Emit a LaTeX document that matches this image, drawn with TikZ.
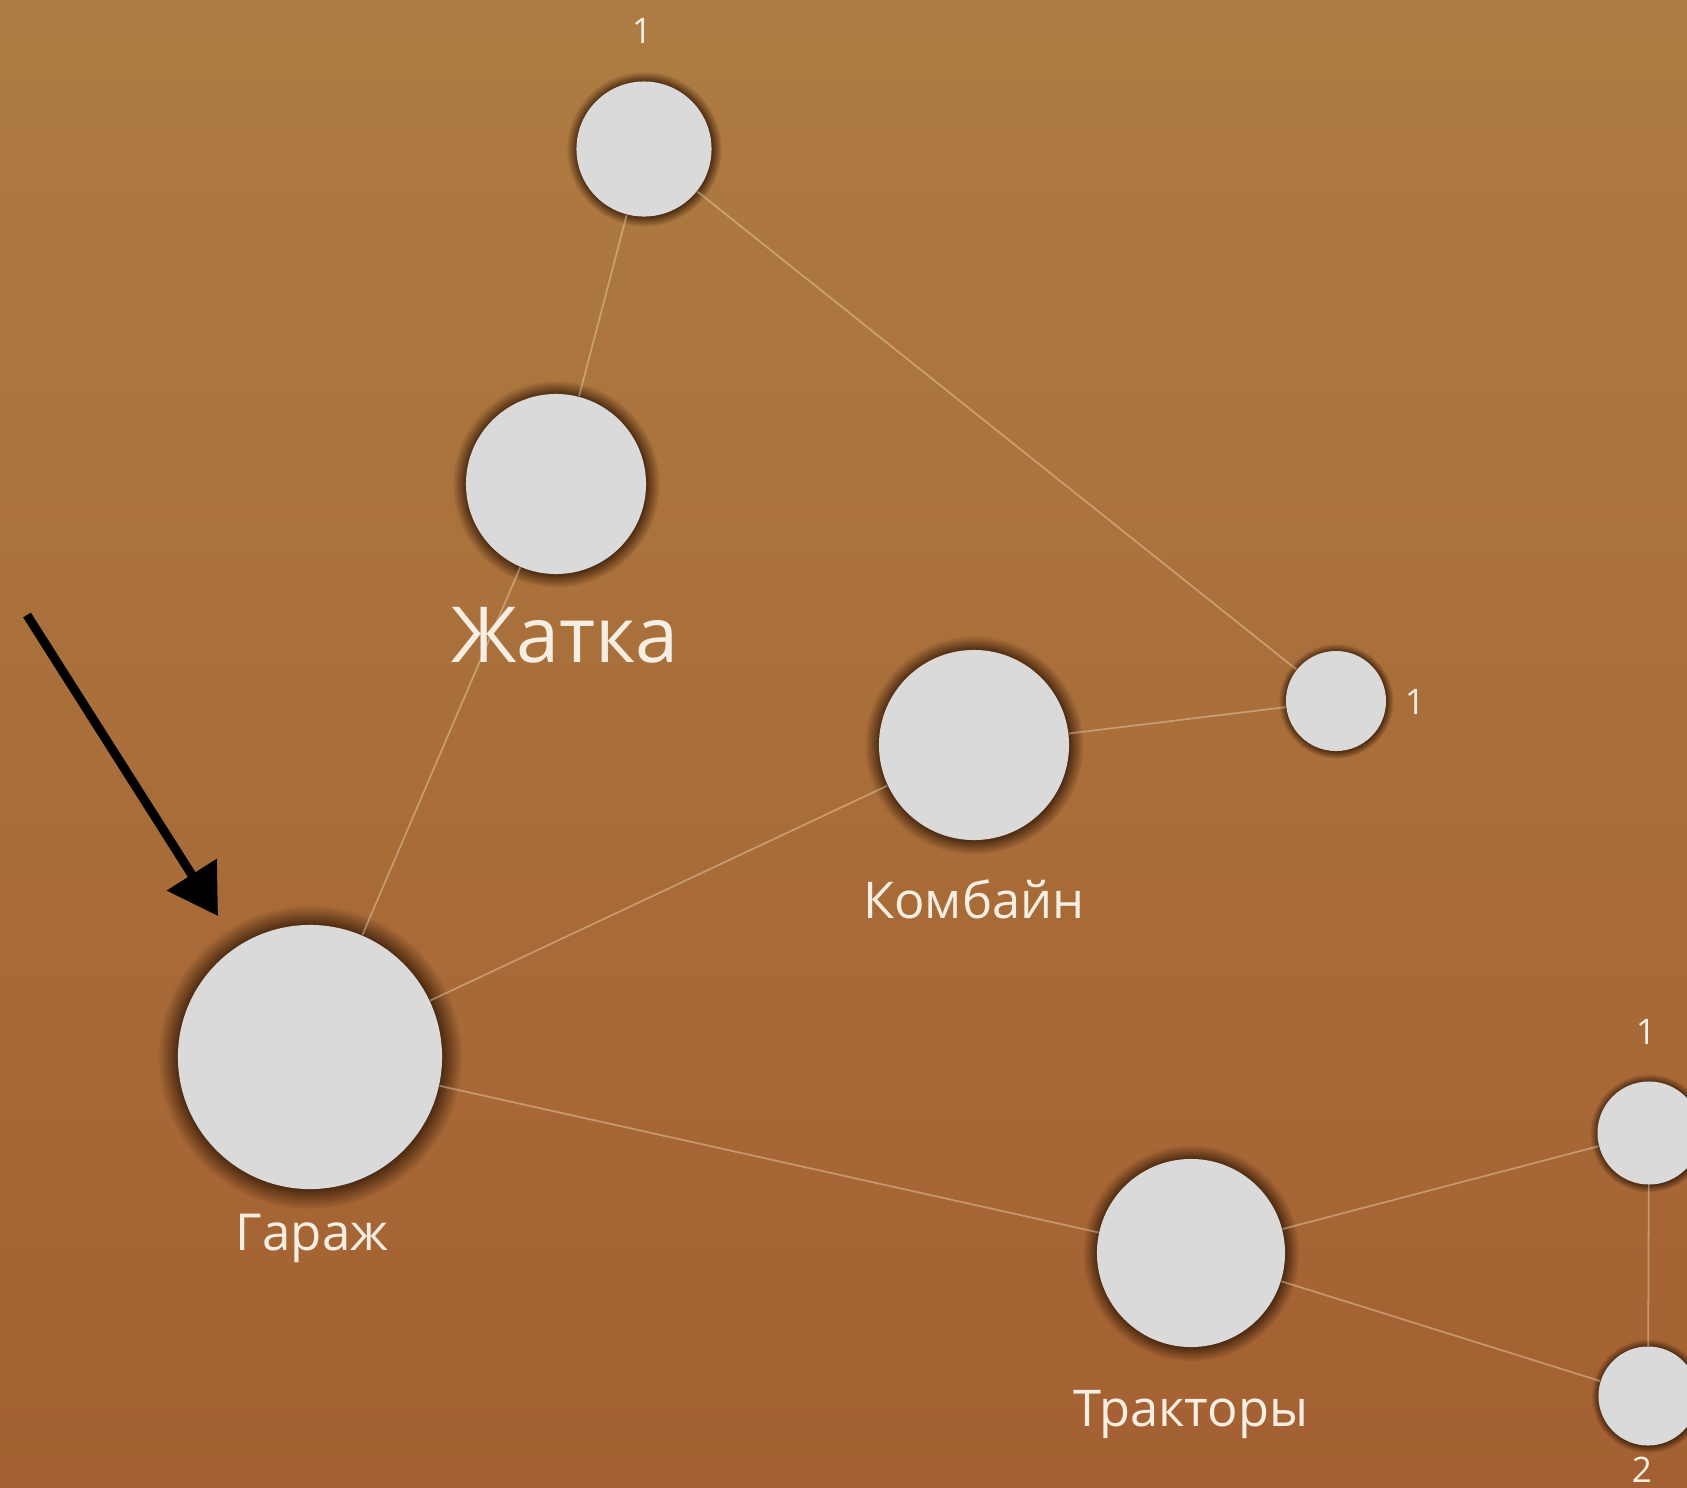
\documentclass[tikz,border=0pt]{standalone}
\usepackage{fontspec}
\setmainfont{Open Sans}
\usetikzlibrary{shadows,arrows.meta}

\definecolor{bgtop}{RGB}{174,124,66}
\definecolor{bgmid}{RGB}{184,127,66}
\definecolor{bgbot}{RGB}{164,96,50}
\definecolor{bubblegray}{RGB}{218,218,218}
\definecolor{halo}{RGB}{62,32,10}
\definecolor{linkcream}{RGB}{236,214,180}
\definecolor{labelcream}{RGB}{246,238,226}

\tikzset{
  bubble/.style={circle, fill=bubblegray, inner sep=0pt, minimum size=#1,
    circular drop shadow={shadow xshift=0pt, shadow yshift=0pt, shadow scale=1.15, fill=halo, opacity=0.95}},
  link/.style={draw=linkcream, opacity=0.45, line width=0.5pt},
  lbl/.style={text=labelcream, anchor=base, inner sep=0pt},
  count/.style={text=labelcream, anchor=base, inner sep=0pt, font=\fontsize{10}{12}\selectfont},
}

\begin{document}
\begin{tikzpicture}[x=0.01cm,y=-0.01cm]
  \useasboundingbox (0,0) rectangle (1687,1487);
  \clip (0,0) rectangle (1687,1487);
  \shade[top color=bgtop, middle color=bgmid, bottom color=bgbot] (0,0) rectangle (1687,1487);

  \node[bubble=1.35cm] (top) at (644,149) {};
  \node[bubble=1.80cm] (zhatka) at (556,484) {};
  \node[bubble=1.90cm] (kombajn) at (974,745) {};
  \node[bubble=1.00cm] (side) at (1336,701) {};
  \node[bubble=2.64cm] (garazh) at (310,1057) {};
  \node[bubble=1.88cm] (traktory) at (1191,1253) {};
  \node[bubble=1.03cm] (trone) at (1649,1133) {};
  \node[bubble=0.99cm] (trtwo) at (1648,1396) {};

  \draw[link] (top) -- (zhatka);
  \draw[link] (top) -- (side);
  \draw[link] (zhatka) -- (garazh);
  \draw[link] (garazh) -- (kombajn);
  \draw[link] (kombajn) -- (side);
  \draw[link] (garazh) -- (traktory);
  \draw[link] (traktory) -- (trone);
  \draw[link] (traktory) -- (trtwo);
  \draw[link] (trone) -- (trtwo);

  \node[lbl, font=\fontsize{22}{26}\selectfont] (zhatkalbl) at (565,662) {Жатка};
  \node[lbl, font=\fontsize{14.4}{17}\selectfont] (kombajnlbl) at (974,918) {Комбайн};
  \node[lbl, font=\fontsize{14.5}{17}\selectfont] (garazhlbl) at (312,1250) {Гараж};
  \node[lbl, font=\fontsize{14.4}{17}\selectfont] (traktorylbl) at (1191,1426) {Тракторы};

  \node[count] (topcount) at (642,43) {1};
  \node[count] (sidecount) at (1415,714) {1};
  \node[count] (tronecount) at (1646,1044) {1};
  \node[count] (trtwocount) at (1642,1482) {2};

  \coordinate (arrtail) at (27,615);
  \coordinate (arrtip) at (218,916);
  \draw[line width=0.09cm, -{Triangle[length=0.49cm, width=0.57cm]}] (arrtail) -- (arrtip);
\end{tikzpicture}
\end{document}
